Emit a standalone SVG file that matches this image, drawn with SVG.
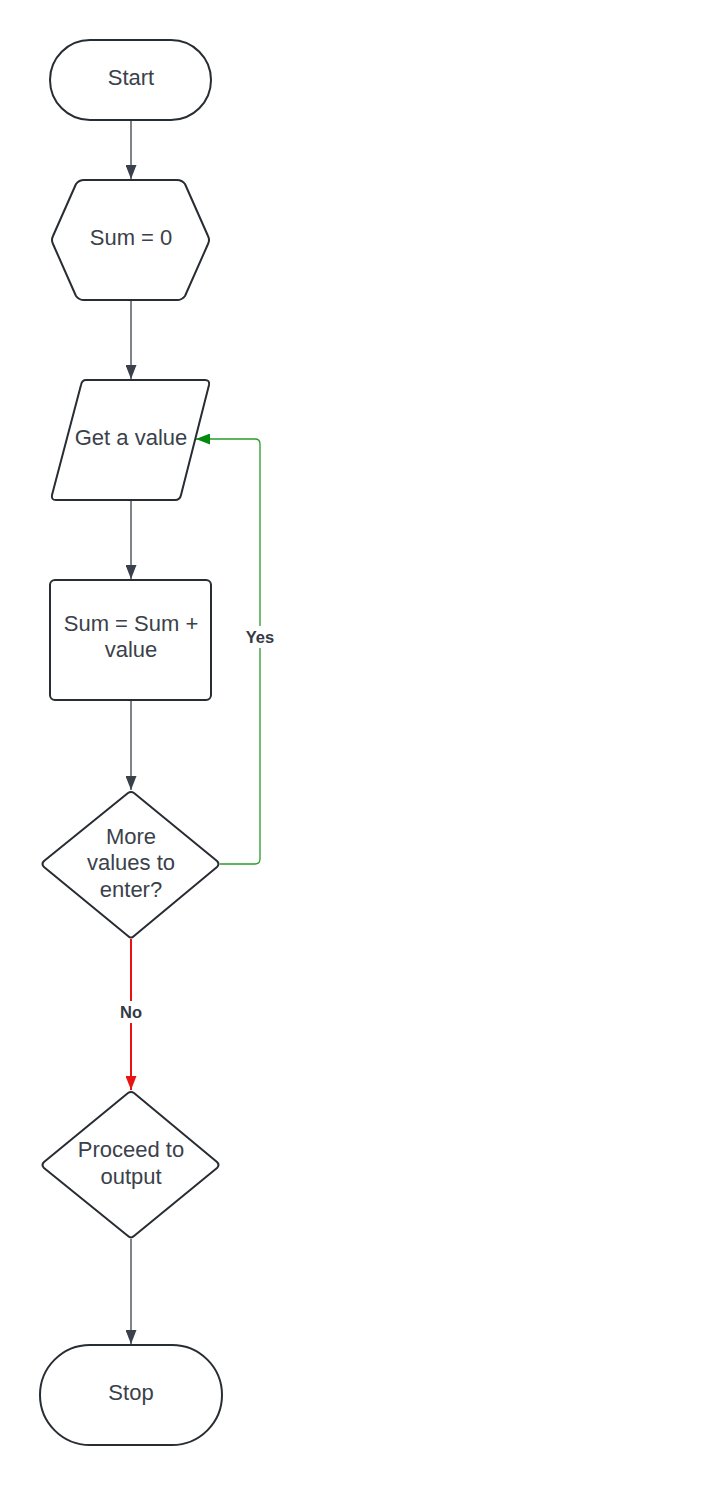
<svg xmlns="http://www.w3.org/2000/svg" width="713" height="1485" viewBox="0 0 713 1485">
<style>
.n{fill:#ffffff;stroke:#282c33;stroke-width:2;stroke-linejoin:round}
.t{font-family:"Liberation Sans",Arial,sans-serif;font-size:22px;fill:#3a414a;text-anchor:middle}
.l{font-family:"Liberation Sans",Arial,sans-serif;font-size:16.5px;font-weight:bold;fill:#333a44;text-anchor:middle}
.c{fill:none;stroke:#3a414a;stroke-width:1.3}
</style>
<defs>
<marker id="ad" viewBox="0 0 14 11" refX="14" refY="5.5" markerWidth="14" markerHeight="11" markerUnits="userSpaceOnUse" orient="auto"><path d="M0,0 L14,5.5 L0,11 Z" fill="#3a414a"/></marker>
<marker id="ag" viewBox="0 0 14 11" refX="14" refY="5.5" markerWidth="14" markerHeight="11" markerUnits="userSpaceOnUse" orient="auto"><path d="M0,0 L14,5.5 L0,11 Z" fill="#008a0e"/></marker>
<marker id="ar" viewBox="0 0 14 11" refX="14" refY="5.5" markerWidth="14" markerHeight="11" markerUnits="userSpaceOnUse" orient="auto"><path d="M0,0 L14,5.5 L0,11 Z" fill="#e81313"/></marker>
</defs>
<rect width="713" height="1485" fill="#ffffff"/>
<g id="connectors">
<path class="c" d="M131,120 V179" marker-end="url(#ad)"/>
<path class="c" d="M131,300 V379" marker-end="url(#ad)"/>
<path class="c" d="M131,500 V579" marker-end="url(#ad)"/>
<path class="c" d="M131,700 V790" marker-end="url(#ad)"/>
<path d="M220,864 H255 Q260,864 260,859 V444 Q260,439 255,439 H196" fill="none" stroke="#2a9a2a" stroke-width="1.3" marker-end="url(#ag)"/>
<rect x="244" y="626" width="32" height="22" fill="#ffffff"/>
<text class="l" x="260" y="643">Yes</text>
<path d="M131,939 V1090" fill="none" stroke="#e81313" stroke-width="2" marker-end="url(#ar)"/>
<rect x="116" y="1001" width="30" height="22" fill="#ffffff"/>
<text class="l" x="131" y="1018">No</text>
<path class="c" d="M131,1239 V1344" marker-end="url(#ad)"/>
</g>
<g id="start">
<rect class="n" x="50" y="40" width="161" height="80" rx="40"/>
<text class="t" x="131" y="85">Start</text>
</g>
<g id="sum0">
<path class="n" d="M84,180 H177 Q182,180 185,184 L208,236 Q210,240 208,244 L185,296 Q182,300 177,300 H84 Q79,300 76,296 L53,244 Q51,240 53,236 L76,184 Q79,180 84,180 Z"/>
<text class="t" x="131" y="245">Sum = 0</text>
</g>
<g id="getvalue">
<path class="n" d="M86,380 H205 Q210,380 209,385 L181,495 Q180,500 175,500 H56 Q51,500 52,495 L81,385 Q82,380 86,380 Z"/>
<text class="t" x="131" y="445">Get a value</text>
</g>
<g id="sumadd">
<rect class="n" x="50" y="580" width="161" height="120" rx="5"/>
<text class="t" x="131" y="631">Sum = Sum +</text>
<text class="t" x="131" y="657">value</text>
</g>
<g id="more">
<path class="n" d="M128,793 Q131,791 134,793 L217,861 Q220,864 217,867 L134,936 Q131,939 128,936 L44,867 Q41,864 44,861 Z"/>
<text class="t" x="131" y="844">More</text>
<text class="t" x="131" y="870">values to</text>
<text class="t" x="131" y="897">enter?</text>
</g>
<g id="proceed">
<path class="n" d="M128,1093 Q131,1091 134,1093 L217,1162 Q220,1165 217,1168 L134,1236 Q131,1239 128,1236 L44,1168 Q41,1165 44,1162 Z"/>
<text class="t" x="131" y="1157">Proceed to</text>
<text class="t" x="131" y="1184">output</text>
</g>
<g id="stop">
<rect class="n" x="40" y="1345" width="182" height="100" rx="50"/>
<text class="t" x="131" y="1400">Stop</text>
</g>
</svg>
